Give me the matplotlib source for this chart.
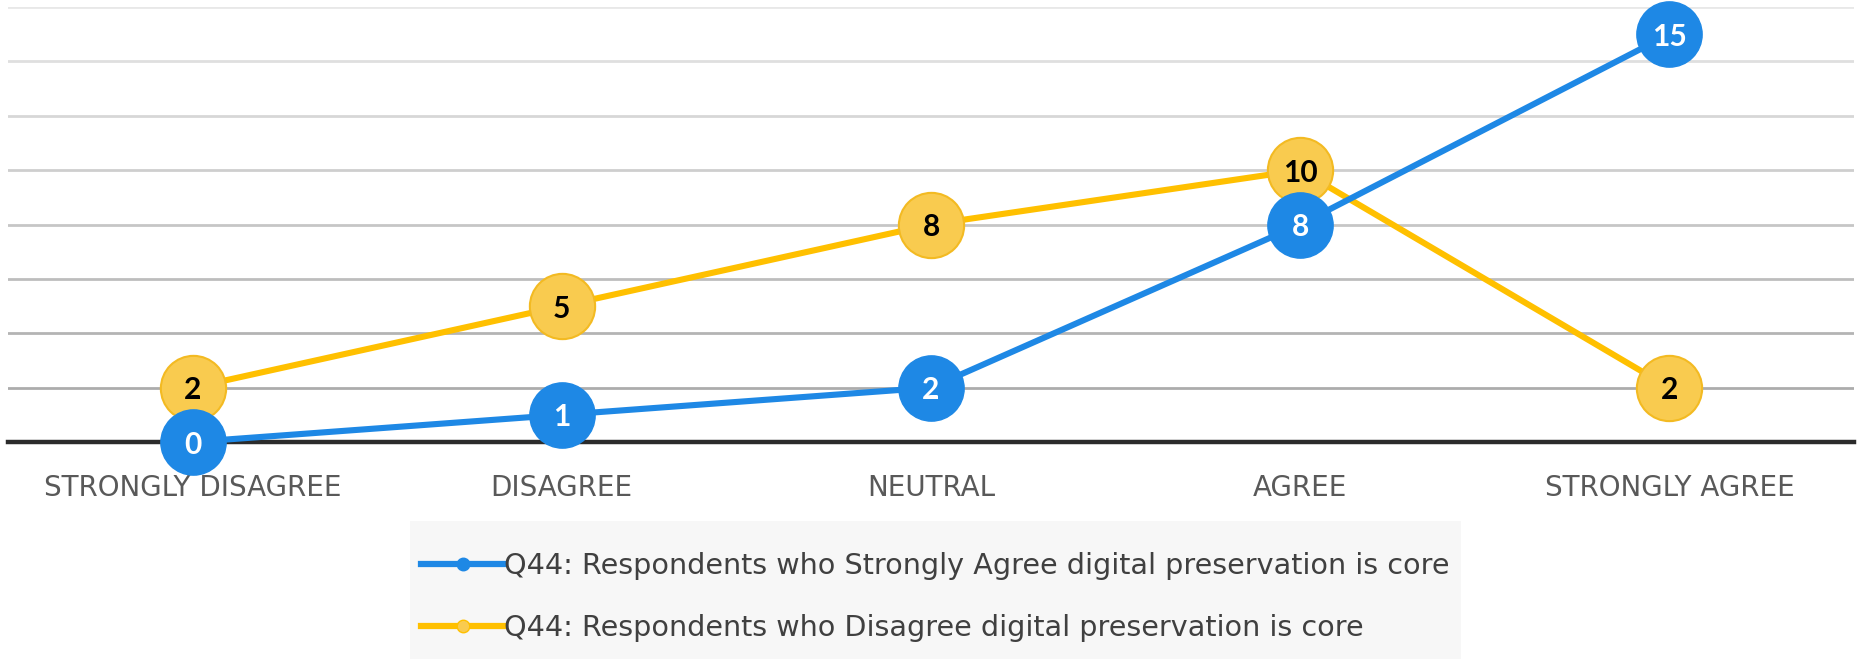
import matplotlib.pyplot as plt
from matplotlib.lines import Line2D
from matplotlib.patches import Rectangle
import numpy as np

# categories and series
categories = ["STRONGLY DISAGREE", "DISAGREE", "NEUTRAL", "AGREE", "STRONGLY AGREE"]
strongly_agree = [0, 1, 2, 8, 15]
disagree = [2, 5, 8, 10, 2]
series_names = [
    "Q44: Respondents who Strongly Agree digital preservation is core",
    "Q44: Respondents who Disagree digital preservation is core",
]

blue = "#1E88E5"
gold = "#FFC000"
gold_face = "#F9CB4F"
gold_edge = "#F3BA22"

plt.rcParams['font.family'] = ['DejaVu Sans']

W, H = 1865, 659
fig = plt.figure(figsize=(W / 100, H / 100), dpi=100)
ax = fig.add_axes([8 / W, 1 - 442 / H, 1846 / W, 435 / H])

x = np.arange(len(categories))

# yellow first, blue on top
ax.plot(x, disagree, color=gold, linewidth=4.4, marker='o', markersize=47,
        markerfacecolor=gold_face, markeredgecolor=gold_edge, markeredgewidth=1.5,
        clip_on=False, zorder=3)
ax.plot(x, strongly_agree, color=blue, linewidth=4.4, marker='o', markersize=47,
        markerfacecolor=blue, markeredgecolor=blue, clip_on=False, zorder=4)

for xi, v in zip(x, disagree):
    ax.text(xi, v, str(v), ha='center', va='center_baseline', fontsize=21.5,
            fontweight='bold', color='black', family='Lato', zorder=6)
for xi, v in zip(x, strongly_agree):
    ax.text(xi, v, str(v), ha='center', va='center_baseline', fontsize=21.5,
            fontweight='bold', color='white', family='Lato', zorder=6)

ax.set_xlim(-0.5, len(categories) - 0.5)
ax.set_ylim(0, 16)
ax.set_xticks(x)
ax.set_xticklabels(categories, fontsize=20, color="#595959")
ax.set_yticks(np.arange(0, 17, 2))
ax.tick_params(axis='x', length=0, pad=23)
ax.tick_params(axis='y', length=0, labelleft=False)

ax.grid(axis='y', linewidth=2)
ax.set_axisbelow(True)
grid_lines = ax.get_ygridlines()
n = len(grid_lines)
for i, gl in enumerate(grid_lines):
    # gridlines fade from darker at the bottom to light at the top
    g = 0.64 + 0.27 * i / (n - 1)
    gl.set_color((g, g, g))

for side in ['top', 'left', 'right']:
    ax.spines[side].set_visible(False)
ax.spines['bottom'].set_color("#2B2B2B")
ax.spines['bottom'].set_linewidth(3.2)
ax.spines['bottom'].set_zorder(2)

# light panel behind the legend
fig.patches.append(Rectangle((410 / W, 0), 1051 / W, 138 / H,
                             transform=fig.transFigure, facecolor="#F7F7F7",
                             edgecolor='none', zorder=0))

handles = [
    Line2D([], [], color=blue, linewidth=4.5, marker='o', markersize=9,
           markerfacecolor=blue, markeredgecolor=blue),
    Line2D([], [], color=gold, linewidth=4.5, marker='o', markersize=9,
           markerfacecolor=gold_face, markeredgecolor=gold),
]
leg = fig.legend(handles, series_names, loc='upper left',
                 bbox_to_anchor=(410 / W, 1 - 541 / H),
                 fontsize=20.6, frameon=False,
                 handlelength=2.9, handletextpad=0.0, labelspacing=1.17,
                 borderpad=0.4, borderaxespad=0)
for t in leg.get_texts():
    t.set_color("#404040")

fig.savefig("out.png", dpi=100)
